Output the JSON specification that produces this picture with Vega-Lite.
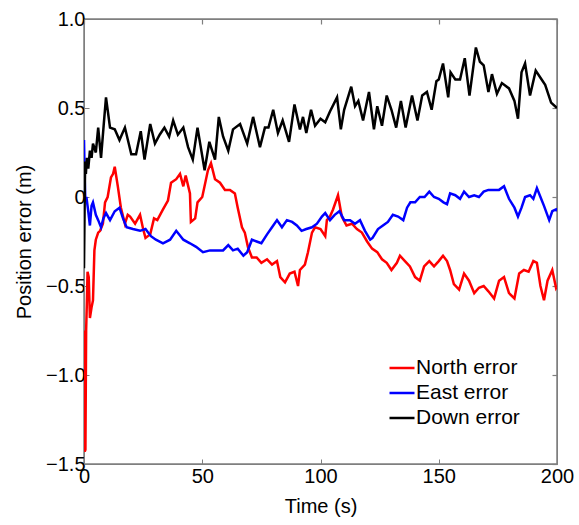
{
"$schema": "https://vega.github.io/schema/vega-lite/v6.json",
"width": 473, "height": 445,
"autosize": "none",
"padding": {"left": 84, "top": 19, "right": 22, "bottom": 61},
"background": "white",
"config": {"font": "Liberation Sans", "view": {"stroke": "#7f7f7f", "strokeWidth": 1.5}, "axis": {"grid": false}},
"datasets": {
"N": [[0,-0.75],[0.3,-1.43],[0.6,-1.42],[0.9,-0.75],[1.2,-0.6],[1.5,-0.42],[2.0,-0.45],[2.5,-0.68],[3.2,-0.62],[3.8,-0.58],[4.4,-0.3],[5,-0.24],[6,-0.2],[6.8,-0.19],[8,-0.15],[8.9,-0.03],[10,0.0],[11.4,0.11],[12.3,0.13],[13,0.17],[14.3,0.06],[15.6,-0.06],[17.3,-0.15],[18.5,-0.1],[19.5,-0.11],[21.6,-0.15],[23.7,-0.10],[25,-0.18],[26,-0.23],[28,-0.21],[29.6,-0.12],[31,-0.13],[33.4,-0.07],[35.5,-0.02],[36.8,0.08],[39,0.10],[40.6,0.13],[42,0.06],[43,0.12],[44.8,0.02],[45.2,-0.14],[47,-0.12],[48,-0.03],[50,0.0],[52.4,0.15],[53.7,0.19],[55.4,0.10],[57.5,0.08],[59.6,0.04],[61.7,0.04],[63.8,0.02],[65,-0.06],[66.8,-0.17],[68,-0.2],[69.3,-0.28],[71,-0.34],[73,-0.34],[75,-0.37],[77.4,-0.35],[79.5,-0.38],[81.6,-0.36],[83,-0.45],[85,-0.48],[87,-0.43],[89,-0.42],[90.5,-0.50],[91.3,-0.41],[93.4,-0.38],[94.7,-0.31],[96.4,-0.20],[97.7,-0.17],[100,-0.18],[102,-0.22],[102.7,-0.13],[104,-0.11],[105.3,-0.07],[107.4,0.01],[109,-0.11],[111,-0.16],[113.3,-0.15],[115.4,-0.18],[117.5,-0.20],[119.7,-0.25],[121.8,-0.29],[124,-0.31],[126,-0.35],[128,-0.37],[130,-0.41],[132.3,-0.37],[133.6,-0.33],[135.7,-0.36],[137.8,-0.39],[140,-0.45],[142,-0.47],[143.8,-0.39],[146,-0.36],[148,-0.39],[150,-0.36],[151.8,-0.33],[153.5,-0.36],[154.8,-0.41],[156.4,-0.49],[158.6,-0.52],[160.7,-0.43],[162.8,-0.47],[165,-0.54],[167,-0.51],[169,-0.50],[171,-0.53],[173.4,-0.57],[175.5,-0.47],[177.6,-0.45],[179.7,-0.54],[182,-0.57],[184,-0.43],[186,-0.41],[188,-0.42],[190,-0.36],[191.5,-0.37],[193,-0.50],[194.5,-0.58],[196,-0.47],[198,-0.41],[199.6,-0.51],[200,-0.5]],
"E": [[0,0.32],[0.3,0.1],[0.6,-0.03],[1.0,0.0],[1.7,-0.07],[2.5,-0.16],[3.2,-0.05],[3.8,-0.03],[5,-0.10],[6,-0.13],[7.2,-0.17],[8.2,-0.12],[9.3,-0.09],[11,-0.13],[13,-0.08],[15,-0.06],[16.5,-0.12],[18,-0.17],[20.7,-0.18],[23.7,-0.19],[26,-0.18],[28.3,-0.22],[30.4,-0.24],[33.4,-0.26],[36.4,-0.24],[39,-0.19],[42,-0.24],[44.8,-0.26],[47.4,-0.28],[50.3,-0.31],[53.3,-0.30],[55.8,-0.30],[58.8,-0.30],[61,-0.27],[63,-0.30],[65,-0.29],[67.4,-0.33],[69,-0.31],[71,-0.24],[73,-0.25],[75,-0.26],[77.4,-0.21],[79.5,-0.17],[81.6,-0.13],[83.7,-0.17],[85.8,-0.13],[88,-0.14],[90,-0.16],[92,-0.19],[94,-0.18],[96.4,-0.17],[98.5,-0.15],[100.6,-0.11],[102,-0.09],[104,-0.13],[106,-0.10],[108,-0.08],[110,-0.13],[112.5,-0.13],[114.6,-0.15],[116.7,-0.13],[118.8,-0.19],[121,-0.24],[122,-0.23],[124.3,-0.18],[126.4,-0.16],[128.5,-0.14],[130.6,-0.10],[132.8,-0.11],[135,-0.13],[136.6,-0.06],[138,-0.03],[140,-0.03],[142,0.0],[144,0.0],[146,0.03],[148,0.0],[150,-0.01],[152,-0.03],[153.5,-0.04],[154.8,0.02],[157,0.01],[159,-0.01],[160.7,0.03],[162.8,0.0],[165,0.01],[167,0.0],[169,0.03],[171,0.04],[173.4,0.04],[175.5,0.04],[177.6,0.06],[179.7,-0.01],[182,-0.06],[183.5,-0.11],[185,-0.06],[186.5,0.0],[188.6,0.01],[190,-0.01],[191.5,0.05],[193,0.0],[194.5,-0.05],[196.7,-0.13],[198,-0.08],[199.6,-0.07],[200,-0.08]],
"D": [[0,-0.40],[0.3,0.0],[0.5,0.2],[0.8,0.13],[1.2,0.22],[1.8,0.16],[2.5,0.26],[3.2,0.22],[3.8,0.30],[5,0.25],[6,0.39],[7.2,0.22],[8.3,0.40],[9.3,0.56],[11,0.39],[13,0.38],[15,0.32],[17.3,0.39],[20,0.24],[22,0.24],[24,0.37],[25.6,0.21],[28,0.41],[30,0.30],[32,0.35],[34,0.39],[36,0.34],[37.7,0.43],[39.7,0.35],[42,0.39],[44,0.28],[46,0.21],[48,0.39],[51,0.15],[53,0.31],[55.4,0.21],[57,0.45],[58.8,0.34],[61,0.26],[63,0.38],[66,0.41],[69,0.30],[71.5,0.45],[74.4,0.28],[76.5,0.39],[78,0.39],[80,0.49],[82,0.36],[84,0.43],[86.7,0.31],[89,0.52],[91.3,0.38],[92.6,0.45],[94,0.36],[96,0.49],[97.7,0.40],[100,0.44],[102,0.42],[104,0.48],[107,0.56],[108.6,0.38],[110,0.49],[113,0.62],[114.6,0.51],[116,0.54],[118,0.43],[120.5,0.59],[122.6,0.38],[124,0.51],[126,0.40],[128,0.57],[130,0.49],[132,0.39],[134,0.54],[136,0.39],[138.7,0.57],[141,0.43],[143,0.57],[145,0.59],[147,0.49],[149,0.65],[150,0.66],[151.8,0.75],[154,0.56],[155,0.70],[157,0.66],[159,0.66],[161,0.78],[163,0.57],[165.7,0.84],[167.4,0.76],[169,0.74],[171,0.59],[172.5,0.69],[174.6,0.58],[176.7,0.64],[179.7,0.61],[182,0.54],[183.5,0.44],[185,0.70],[186.5,0.75],[188.6,0.57],[191,0.71],[193,0.67],[195,0.63],[197.5,0.53],[200,0.50]]
},
"layer": [
{"data": {"name": "N"}, "transform": [{"calculate": "datum[0]", "as": "t"}, {"calculate": "datum[1]", "as": "v"}, {"calculate": "'North error'", "as": "s"}],
 "mark": {"type": "line", "strokeWidth": 2.5, "clip": true},
 "encoding": {
  "x": {"field": "t", "type": "quantitative", "scale": {"domain": [0, 200], "nice": false, "zero": false},
   "axis": {"values": [0, 50, 100, 150, 200], "tickSize": -5, "tickColor": "#7f7f7f", "domainColor": "#7f7f7f", "labelFontSize": 20, "labelColor": "black", "labelPadding": 7, "title": "Time (s)", "titleFontSize": 20, "titleFontWeight": "normal", "titleColor": "black", "titlePadding": 10, "labelFlush": false}},
  "y": {"field": "v", "type": "quantitative", "scale": {"domain": [-1.5, 1.0], "nice": false, "zero": false},
   "axis": {"values": [-1.5, -1, -0.5, 0, 0.5, 1], "labelExpr": "datum.value == 0 ? '0' : format(datum.value, '.1f')", "tickSize": -5, "tickColor": "#7f7f7f", "domainColor": "#7f7f7f", "labelFontSize": 20, "labelColor": "black", "labelPadding": 4, "title": "Position error (m)", "titleFontSize": 20, "titleFontWeight": "normal", "titleColor": "black", "titlePadding": 11, "labelFlush": false}},
  "color": {"field": "s", "type": "nominal", "scale": {"domain": ["North error", "East error", "Down error"], "range": ["#ff0000", "#0000ff", "#000000"]},
   "legend": {"orient": "none", "legendX": 304, "legendY": 335, "title": null, "symbolType": "stroke", "symbolSize": 625, "symbolStrokeWidth": 2.5, "labelFontSize": 21, "labelColor": "black", "labelOffset": 0, "rowPadding": 1, "padding": 0}}
 }},
{"data": {"name": "E"}, "transform": [{"calculate": "datum[0]", "as": "t"}, {"calculate": "datum[1]", "as": "v"}, {"calculate": "'East error'", "as": "s"}],
 "mark": {"type": "line", "strokeWidth": 2.5, "clip": true},
 "encoding": {"x": {"field": "t", "type": "quantitative", "axis": null}, "y": {"field": "v", "type": "quantitative", "axis": null}, "color": {"field": "s", "type": "nominal"}}},
{"data": {"name": "D"}, "transform": [{"calculate": "datum[0]", "as": "t"}, {"calculate": "datum[1]", "as": "v"}, {"calculate": "'Down error'", "as": "s"}],
 "mark": {"type": "line", "strokeWidth": 2.5, "clip": true},
 "encoding": {"x": {"field": "t", "type": "quantitative", "axis": null}, "y": {"field": "v", "type": "quantitative", "axis": null}, "color": {"field": "s", "type": "nominal"}}},
{"data": {"name": "D"}, "transform": [{"calculate": "datum[0]", "as": "t"}, {"calculate": "datum[1]", "as": "v"}],
 "mark": {"type": "point", "opacity": 0},
 "encoding": {
  "x": {"field": "t", "type": "quantitative", "axis": {"orient": "top", "values": [0, 50, 100, 150, 200], "labels": false, "title": null, "tickSize": -5, "tickWidth": 1.2, "tickColor": "#7f7f7f", "domainColor": "#7f7f7f"}},
  "y": {"field": "v", "type": "quantitative", "axis": {"orient": "right", "values": [-1.5, -1, -0.5, 0, 0.5, 1], "labels": false, "title": null, "tickSize": -5, "tickWidth": 1.2, "tickColor": "#7f7f7f", "domainColor": "#7f7f7f"}}
 }}
],
"resolve": {"axis": {"x": "independent", "y": "independent"}}
}
